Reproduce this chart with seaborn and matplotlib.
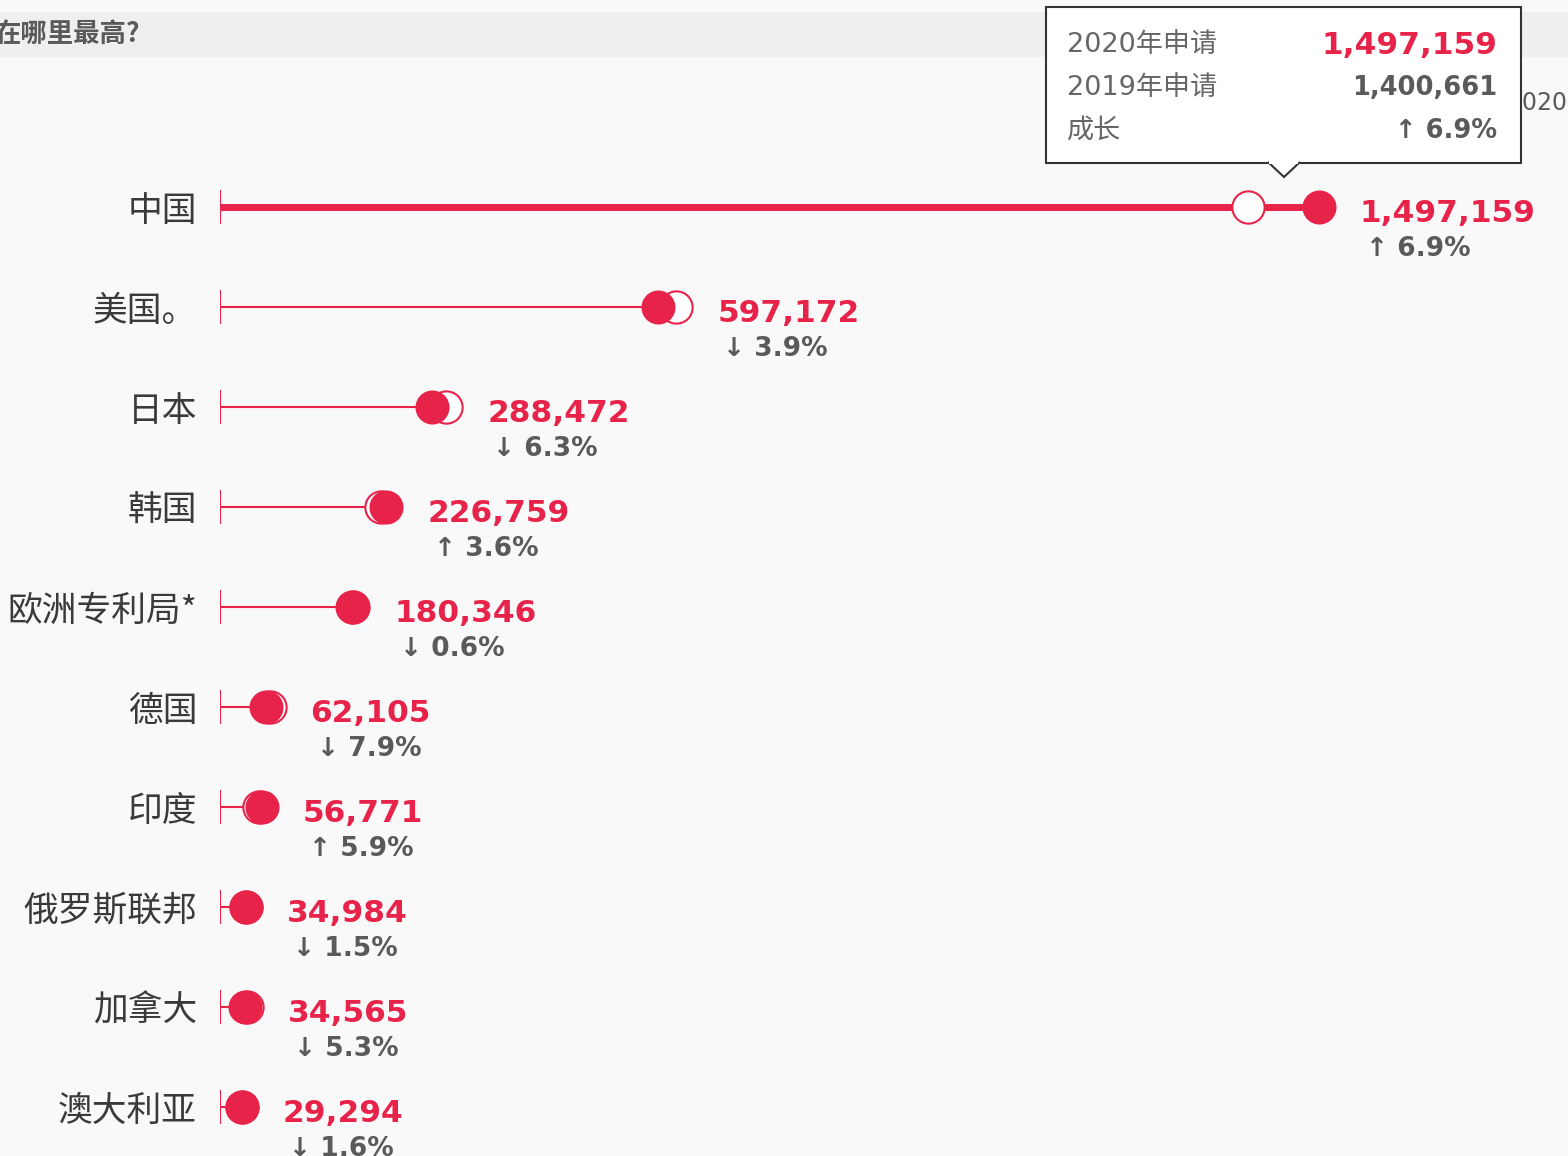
import numpy as np
import pandas as pd
import matplotlib
matplotlib.use("Agg")
import matplotlib.pyplot as plt
import seaborn as sns
from matplotlib.patches import Rectangle, Polygon

# 데이터
countries = ["中国", "美国。", "日本", "韩国", "欧洲专利局*", "德国", "印度", "俄罗斯联邦", "加拿大", "澳大利亚"]
apps_2020 = [1497159, 597172, 288472, 226759, 180346, 62105, 56771, 34984, 34565, 29294]
apps_2019 = [1400661, 621453, 307969, 218975, 181406, 67434, 53627, 35511, 36488, 29758]
growth = [6.9, -3.9, -6.3, 3.6, -0.6, -7.9, 5.9, -1.5, -5.3, -1.6]

title_text = "在哪里最高?"
tip_labels = ["2020年申请", "2019年申请", "成长"]

RED = "#e8234a"
GREY = "#5a5a5a"
BG = "#f9f9f9"

sns.set_style("white")
plt.rcParams["font.family"] = ["DejaVu Sans", "Noto Sans CJK SC"]
cjk = ["Noto Sans CJK SC", "DejaVu Sans"]

df = pd.DataFrame({"country": countries, "y2020": apps_2020, "y2019": apps_2019, "growth": growth})
df["pos"] = np.arange(len(df))
df["end"] = df[["y2020", "y2019"]].max(axis=1)

W, H = 1568, 1156
fig = plt.figure(figsize=(W / 100, H / 100), dpi=100, facecolor=BG)

# 메인 축 (x=0 이 220px, 1,497,159 가 1319px)
scale = (1319 - 220) / 1497159
ax = fig.add_axes([220 / W, 0, (W - 220) / W, 999 / H])
ax.set_facecolor("none")

for _, r in df.iterrows():
    lw = 5 if r["pos"] == 0 else 1.5
    ax.hlines(r["pos"], 0, r["end"], color=RED, lw=lw, zorder=1)
ax.scatter(np.zeros(len(df)), df["pos"], marker="|", s=24.5 ** 2, color=RED, linewidths=1.5, zorder=1)

sns.scatterplot(data=df, x="y2019", y="pos", ax=ax, s=540, color="white",
                edgecolor=RED, linewidth=1.5, zorder=2, legend=False)
sns.scatterplot(data=df, x="y2020", y="pos", ax=ax, s=600, color=RED,
                edgecolor=RED, linewidth=0, zorder=3, legend=False)

for _, r in df.iterrows():
    ax.annotate(f"{r['y2020']:,}", (r["end"], r["pos"]), xytext=(29.5, -11),
                textcoords="offset points", color=RED, fontsize=22.5, fontweight="bold",
                ha="left", va="baseline")
    arrow = "↑" if r["growth"] >= 0 else "↓"
    ax.annotate(f"{arrow} {abs(r['growth']):.1f}%", (r["end"], r["pos"]), xytext=(34, -35),
                textcoords="offset points", color=GREY, fontsize=19, fontweight="bold",
                ha="left", va="baseline")

ax.set_xlim(0, (W - 220) / scale)
ax.set_ylim(9.49, -0.5)
ax.set_yticks(df["pos"])
ax.set_yticklabels(df["country"], fontsize=25, color="#3a3a3a", family=cjk)
ax.tick_params(axis="y", length=0, pad=16.5)
ax.set_xticks([])
ax.set_xlabel("")
ax.set_ylabel("")
sns.despine(ax=ax, left=True, bottom=True)

# 상단 헤더 / 툴팁 (픽셀 좌표)
ov = fig.add_axes([0, 0, 1, 1], zorder=5)
ov.set_xlim(0, W)
ov.set_ylim(H, 0)
ov.axis("off")
ov.set_facecolor("none")

ov.add_patch(Rectangle((0, 12), W, 45, facecolor="#efefef", edgecolor="none", zorder=1))
ov.text(-6, 34, title_text, fontsize=19, fontweight="bold", color=GREY, family=cjk,
        ha="left", va="center", zorder=2)
ov.text(1567, 103, "2020", fontsize=17, color=GREY, ha="right", va="center", zorder=2)

ov.add_patch(Rectangle((1046, 7), 475, 156, facecolor="white", edgecolor="#333333", lw=1.5, zorder=5))
ov.add_patch(Polygon([[1268, 162], [1284, 177], [1300, 162]], closed=False,
                     facecolor="white", edgecolor="#333333", lw=1.5, zorder=6))
ov.add_patch(Rectangle((1269.5, 160), 29, 3.5, facecolor="white", edgecolor="none", zorder=7))

tip_vals = [f"{apps_2020[0]:,}", f"{apps_2019[0]:,}", f"↑ {growth[0]:.1f}%"]
tip_colors = [RED, GREY, GREY]
tip_sizes = [22.5, 18.5, 18.5]
for i, (lab, val) in enumerate(zip(tip_labels, tip_vals)):
    y = 45 + 43 * i
    ov.text(1067, y, lab, fontsize=19.5, color="#666666", ha="left", va="center", zorder=8)
    ov.text(1497, y, val, fontsize=tip_sizes[i], fontweight="bold", color=tip_colors[i],
            ha="right", va="center", zorder=8)

fig.savefig("out.png", dpi=100, facecolor=BG)
